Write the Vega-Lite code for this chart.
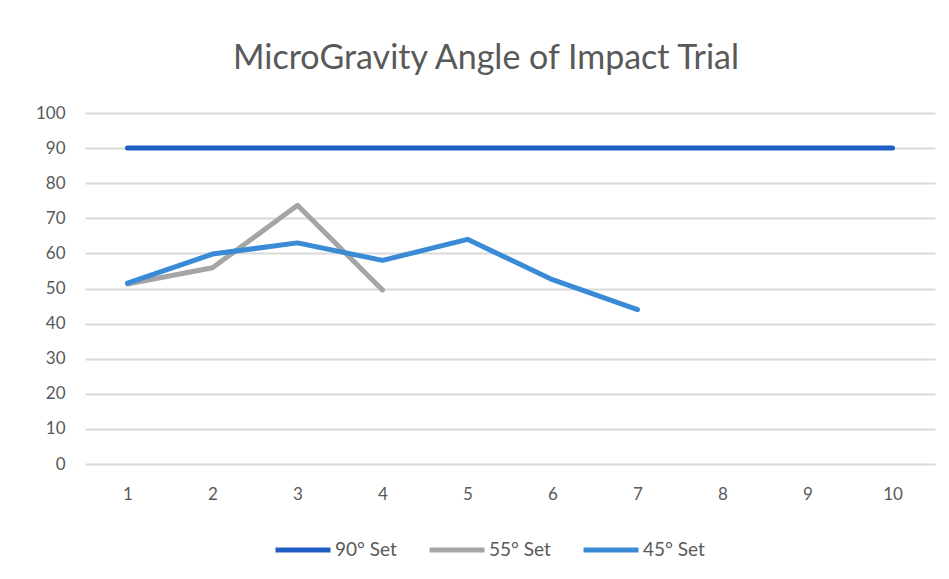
{
  "$schema": "https://vega.github.io/schema/vega-lite/v6.json",
  "width": 850,
  "height": 351,
  "autosize": {"type": "none"},
  "padding": {"left": 85, "top": 113, "right": 14, "bottom": 115},
  "background": "white",
  "title": {
    "text": "MicroGravity Angle of Impact Trial",
    "font": "Lato",
    "fontSize": 34,
    "fontWeight": "normal",
    "color": "#595959",
    "anchor": "middle",
    "dx": -24,
    "offset": 28
  },
  "data": {
    "values": [
      {"trial": 1, "series": "90° Set", "angle": 90},
      {"trial": 2, "series": "90° Set", "angle": 90},
      {"trial": 3, "series": "90° Set", "angle": 90},
      {"trial": 4, "series": "90° Set", "angle": 90},
      {"trial": 5, "series": "90° Set", "angle": 90},
      {"trial": 6, "series": "90° Set", "angle": 90},
      {"trial": 7, "series": "90° Set", "angle": 90},
      {"trial": 8, "series": "90° Set", "angle": 90},
      {"trial": 9, "series": "90° Set", "angle": 90},
      {"trial": 10, "series": "90° Set", "angle": 90},
      {"trial": 1, "series": "55° Set", "angle": 51.3},
      {"trial": 2, "series": "55° Set", "angle": 55.9},
      {"trial": 3, "series": "55° Set", "angle": 73.7},
      {"trial": 4, "series": "55° Set", "angle": 49.6},
      {"trial": 1, "series": "45° Set", "angle": 51.5},
      {"trial": 2, "series": "45° Set", "angle": 59.8},
      {"trial": 3, "series": "45° Set", "angle": 63},
      {"trial": 4, "series": "45° Set", "angle": 58},
      {"trial": 5, "series": "45° Set", "angle": 64},
      {"trial": 6, "series": "45° Set", "angle": 52.5},
      {"trial": 7, "series": "45° Set", "angle": 44}
    ]
  },
  "mark": {"type": "line", "strokeWidth": 5, "strokeCap": "round", "strokeJoin": "round"},
  "encoding": {
    "x": {
      "field": "trial",
      "type": "ordinal",
      "scale": {"domain": [1,2,3,4,5,6,7,8,9,10], "paddingInner": 0, "paddingOuter": 0.5},
      "axis": {
        "title": null,
        "labelAngle": 0,
        "ticks": false,
        "domain": false,
        "grid": false,
        "labelPadding": 22,
        "labelFont": "Lato",
        "labelFontSize": 17,
        "labelColor": "#595959"
      }
    },
    "y": {
      "field": "angle",
      "type": "quantitative",
      "scale": {"domain": [0, 100], "nice": false},
      "axis": {
        "title": null,
        "values": [0,10,20,30,40,50,60,70,80,90,100],
        "ticks": false,
        "domain": false,
        "grid": true,
        "gridColor": "#d9d9d9",
        "gridWidth": 2,
        "labelPadding": 20,
        "labelFont": "Lato",
        "labelFontSize": 17,
        "labelColor": "#595959"
      }
    },
    "color": {
      "field": "series",
      "type": "nominal",
      "scale": {"domain": ["90° Set", "55° Set", "45° Set"], "range": ["#1f5fc4", "#a5a5a5", "#3a8ad6"]},
      "legend": {
        "title": null,
        "orient": "none",
        "direction": "horizontal",
        "legendX": 188,
        "legendY": 407,
        "symbolType": "stroke",
        "symbolSize": 3025,
        "symbolStrokeWidth": 5,
        "labelFont": "Lato",
        "labelFontSize": 19,
        "labelColor": "#595959",
        "labelOffset": 2,
        "columnPadding": 22
      }
    },
    "detail": {"field": "series"}
  },
  "config": {"view": {"stroke": null}}
}
